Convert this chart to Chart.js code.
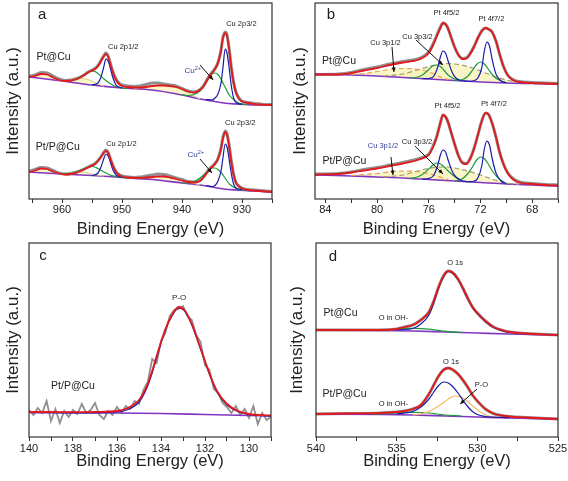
<!DOCTYPE html>
<html>
<head>
<meta charset="utf-8">
<script src="https://cdn.jsdelivr.net/npm/chart.js@4.4.1/dist/chart.umd.min.js"></script>
<style>
  html, body { margin: 0; padding: 0; background: #fff; }
  canvas { position: absolute; }
</style>
</head>
<body>
<canvas id="chartA" width="284" height="241" style="left:0;top:0"></canvas>
<canvas id="chartB" width="284" height="241" style="left:284px;top:0"></canvas>
<canvas id="chartC" width="284" height="240" style="left:0;top:241px"></canvas>
<canvas id="chartD" width="284" height="240" style="left:284px;top:241px"></canvas>
<script>
// ---- a: Cu 2p ----
const aBgEv = [965.5, 960, 955, 950, 945, 940, 937, 935, 933, 931, 928, 925];
const aTopBg = [122, 118, 114, 111, 109, 104, 100, 98, 96, 95, 94, 94];
const aLowBg = [27, 25, 23.5, 21.5, 19.5, 16, 14, 12, 10, 9, 8, 7];
const aEv = [965.5, 964.5, 963.5, 962.5, 961.5, 960.5, 959.5, 958.5, 957.5, 956.5, 955.5, 954.5, 954, 953.5, 953, 952.7, 952.3, 952, 951.5, 951, 950.5, 950, 949, 948, 947, 946, 945, 944, 943, 942, 941, 940, 939, 938, 937, 936.5, 936, 935.5, 935, 934.5, 934, 933.5, 933.2, 932.8, 932.5, 932.2, 931.8, 931.4, 931, 930.5, 930, 929, 928, 927, 926, 925];
const aTopFit = [122, 123, 125, 124.5, 121.5, 119, 118, 118.5, 120, 123, 127, 130, 133, 138, 143, 145, 142, 136, 126, 119, 115, 113, 112, 111.5, 111.5, 112, 113, 113.5, 113.5, 113, 112, 110, 107.5, 106.5, 109, 112, 117, 122, 126, 130, 136, 148, 160, 166, 163, 152, 132, 116, 106, 100, 97.5, 96, 95, 94.5, 94, 94];
const aTopRaw = [122.5, 124, 126.5, 126, 123, 120, 118.5, 119, 120.5, 123.5, 127.5, 130.5, 133.5, 138.5, 143.5, 146, 143, 137, 127, 120, 116, 114, 113, 112.5, 113, 114.5, 116, 116, 115, 114, 113, 110.5, 108, 107, 109.5, 112.5, 117.5, 122.5, 126.5, 130.5, 136.5, 149, 161, 167, 164, 153, 133, 117, 107, 101, 98, 96.5, 95.5, 95, 94.5, 94.5];
const aLowFit = [27, 28.5, 30.5, 30, 27.5, 25.5, 24.5, 25, 26.5, 29, 32, 35, 38, 42, 46.5, 48, 46, 41, 33, 27, 24, 22.5, 21.5, 21, 21, 21.5, 22, 22.5, 22.5, 21.5, 20, 18.5, 17, 16.5, 18, 21, 25, 29, 32, 35, 40, 50, 60, 67, 64, 55, 38, 24, 16, 12.5, 10.5, 9, 8.5, 8, 7.5, 7];
const aLowRaw = [27.5, 29.5, 31.5, 31, 28.5, 26, 25, 25.5, 27, 29.5, 32.5, 35.5, 38.5, 42.5, 47, 49, 46.5, 41.5, 33.5, 27.5, 24.5, 23, 22, 21.5, 22, 23, 24, 25, 24.5, 23, 21, 19.5, 17.5, 17, 18.5, 21.5, 25.5, 29.5, 32.5, 35.5, 40.5, 51, 61, 68, 65, 56, 39, 25, 16.5, 13, 11, 9.5, 9, 8.5, 8, 7.5];
const aMet3Ev = [936, 935, 934.5, 934, 933.5, 933.2, 932.8, 932.5, 932.2, 931.8, 931.4, 931, 930.5, 930];
const aTopMet3 = [99.5, 99, 101, 105, 116, 130, 150, 146, 134, 114, 101, 96.5, 95.2, 94.8];
const aLowMet3 = [13.5, 12.5, 13.5, 18, 28, 40, 55, 52, 42, 26, 15, 11, 10, 9.5];
const aMet1Ev = [955, 954, 953.5, 953, 952.7, 952.3, 952, 951.5, 951, 950.5, 950];
const aTopMet1 = [114, 116, 122, 133, 140, 138, 132, 121, 114, 112, 111];
const aLowMet1 = [23.5, 26, 32, 41, 45, 43, 38, 29, 24, 22.5, 21.5];
const aOx3Ev = [940, 939, 938, 937, 936, 935.5, 935, 934.5, 934, 933.5, 933, 932.5, 932, 931, 930, 929];
const aTopOx3 = [104, 103.5, 104.5, 108, 116, 121, 125, 126, 124.5, 120, 114, 108, 103, 97.5, 95, 94.5];
const aLowOx3 = [16, 16, 17.5, 21, 26, 29, 31, 31, 29.5, 26.5, 22.5, 18, 14.5, 10.5, 9, 8.8];
const aOx1Ev = [960, 959, 958, 957, 956, 955.5, 955, 954.5, 954, 953, 952, 951, 950, 949];
const aTopOx1 = [118, 118, 119, 121.5, 125, 127, 128, 127.5, 125.5, 120, 115.5, 112.5, 111, 110.5];
const aLowOx1 = [25.5, 25.5, 26.5, 28.5, 31, 32, 32.5, 32, 30.5, 27, 24, 22.5, 21.5, 21];
const aSatAEv = [965.5, 964.5, 963.5, 962.5, 961.5, 960.5, 959.5];
const aTopSatA = [122, 123, 124.5, 124, 121, 118.8, 117.6];
const aLowSatA = [27, 28.5, 30, 29.5, 27, 25.5, 24.8];
const aSatBEv = [960, 959, 958, 957, 956, 955, 954, 953];
const aTopSatB = [118, 118.5, 119.5, 120.5, 120, 118, 115, 112.8];
const aLowSatB = [25.2, 25.5, 26.5, 27, 26.5, 25, 23.8, 23];
const aSatCEv = [948, 947, 946, 945, 944, 943, 942, 941, 940, 939, 938, 937];
const aTopSatC = [110.5, 111.5, 112.5, 113.5, 113.5, 113.5, 113, 111.5, 109, 106, 103, 100];
const aLowSatC = [20.7, 21, 21.5, 22, 22.5, 22.5, 21.5, 20, 18.5, 17, 15.5, 14];

// ---- b: Pt 4f / Cu 3p ----
const bBgEv = [84.8, 82, 80, 78, 76, 74, 72, 70, 68, 66];
const bTopBg = [125, 124, 123, 121.5, 120, 118.5, 117, 116, 115.5, 115];
const bLowBg = [24, 23, 22, 21, 19.5, 18, 16.5, 15, 14, 13];
const bEv = [84.8, 83, 82, 81, 80, 79, 78, 77.5, 77, 76.5, 76, 75.7, 75.4, 75.1, 74.9, 74.6, 74.3, 74, 73.7, 73.4, 73.1, 72.8, 72.5, 72.2, 71.9, 71.6, 71.4, 71.1, 70.8, 70.5, 70.2, 69.9, 69.5, 69, 68, 67, 66];
const bTopFit = [124.5, 124.5, 126, 128.5, 131, 134, 136.5, 137.5, 138.5, 141, 146, 153, 162, 171, 176, 173, 163, 152, 144, 140, 140.5, 145, 152, 161, 168, 171, 170, 167, 158, 144, 132, 124, 119, 117, 116, 115.5, 115];
const bTopRaw = [124.5, 125, 126.5, 129.5, 132, 135, 137.5, 138.5, 139.5, 142, 147, 154, 163, 172, 176, 173, 163, 152, 144, 140.5, 141, 145.5, 152.5, 161, 168, 171, 170, 167, 158, 144, 132, 124, 119.5, 117.5, 116.5, 116, 115.5];
const bLowFit = [24.5, 25, 26.5, 28.5, 30.5, 33, 35.5, 37, 38.5, 40.5, 44, 51, 61, 76, 84, 80, 68, 55, 43, 36, 35, 40, 50, 64, 78, 86, 85, 76, 62, 46, 34, 26, 20, 16.5, 15, 14, 13.5];
const bLowRaw = [25, 25.5, 27, 29.5, 31.5, 34, 36.5, 38, 39.5, 41.5, 45, 52, 62, 76, 84, 80, 68, 55, 43.5, 36.5, 35.5, 40.5, 50.5, 64, 78, 86, 85, 76, 62, 46, 34.5, 26.5, 20.5, 17, 15.5, 14.5, 14];
const bPt5Ev = [76.5, 76, 75.6, 75.3, 75.1, 74.9, 74.7, 74.5, 74.2, 73.9, 73.5, 73];
const bTopPt5 = [120.3, 120.5, 123, 132, 142, 148, 146, 138, 127, 121, 118.5, 117.8];
const bLowPt5 = [19.8, 20.5, 24, 34, 44, 49, 47, 39, 28, 22, 18.5, 17.3];
const bPt7Ev = [73, 72.6, 72.2, 71.9, 71.7, 71.5, 71.3, 71.1, 70.8, 70.4, 70];
const bTopPt7 = [117.5, 118, 121, 131, 148, 157, 153, 140, 125, 118, 116.3];
const bLowPt7 = [17.3, 17.5, 21, 33, 50, 58, 54, 41, 26, 18, 15.3];
const bOx5Ev = [77.5, 77, 76.5, 76, 75.7, 75.4, 75.1, 74.8, 74.5, 74, 73.5];
const bTopOx5 = [121, 121.5, 124, 129.5, 133, 134, 132.5, 128.5, 124, 120, 118.5];
const bLowOx5 = [20.7, 21.5, 24.5, 30, 33.5, 36, 35, 32, 28, 22.5, 19];
const bOx7Ev = [74, 73.5, 73, 72.6, 72.3, 72, 71.7, 71.4, 71, 70.5, 70];
const bTopOx7 = [118.5, 119, 122.5, 129, 134.5, 137, 135, 130, 123, 118.5, 116.3];
const bLowOx7 = [18, 19.5, 25, 32.5, 39, 42, 40.5, 35, 26.5, 19.5, 15.5];
const bCu3Ev = [79.5, 78, 77, 76, 75, 74.5, 74, 73, 72, 71, 70, 69];
const bTopCu3 = [122.8, 125, 128.5, 132.5, 135, 135.5, 135, 132.5, 128, 123, 119, 116.5];
const bLowCu3 = [21.8, 24, 27.5, 30.5, 32, 32, 31, 28, 24, 19.5, 16, 14.7];
const bCu1Ev = [82, 81, 80, 79, 78, 77, 76, 75, 74.5];
const bTopCu1 = [124.5, 125.5, 127.5, 129.5, 130.5, 130, 127, 121.5, 119.5];
const bLowCu1 = [23.5, 24.5, 25.5, 27, 28, 27.5, 25.5, 21.5, 19.5];

// ---- c: P 2p ----
const cBgEv = [140, 136, 134, 132, 130, 129];
const cBg = [24.5, 24, 23.5, 22.5, 21.5, 21];
const cEv = [140, 139, 138, 137, 136, 135.5, 135, 134.7, 134.4, 134.1, 133.8, 133.5, 133.2, 132.9, 132.6, 132.3, 132, 131.7, 131.4, 131, 130.5, 130, 129];
const cFit = [25, 25, 24.8, 25, 26, 29, 37, 48, 66, 88, 108, 122, 130, 126, 113, 95, 76, 58, 44, 33, 26, 23, 21.5];
const cPo = [24.5, 24.3, 24.2, 24.2, 25, 27.5, 35, 46, 64, 86.5, 107, 121, 129, 125, 112, 94, 75, 57, 43, 32, 25.5, 22.5, 21];
const cRawEv = [140, 139.8, 139.6, 139.4, 139.2, 139, 138.8, 138.6, 138.4, 138.2, 138, 137.8, 137.6, 137.4, 137.2, 137, 136.8, 136.6, 136.4, 136.2, 136, 135.8, 135.6, 135.4, 135.2, 135, 134.8, 134.6, 134.4, 134.2, 134, 133.8, 133.6, 133.4, 133.2, 133, 132.8, 132.6, 132.4, 132.2, 132, 131.8, 131.6, 131.4, 131.2, 131, 130.8, 130.6, 130.4, 130.2, 130, 129.8, 129.6, 129.4, 129.2, 129];
const cRaw = [27, 22, 29, 24, 36, 16, 28, 14, 26, 20, 27, 23, 33, 24, 27, 34, 22, 18, 26, 22, 30, 24, 31, 28, 36, 33, 47, 55, 78, 74, 96, 104, 121, 127, 128, 131, 121, 117, 102, 95, 72, 67, 48, 44, 34, 30, 24, 31, 22, 28, 19, 31, 13, 24, 17, 20];

// ---- d: O 1s ----
const dBgEv = [540, 536, 534, 532, 530, 528, 525];
const dTopBg = [107, 106.5, 106, 105, 104, 103, 102];
const dLowBg = [23, 22.5, 22, 21, 20, 19, 18];
const dEv = [540, 538, 536, 535, 534.5, 534, 533.5, 533, 532.7, 532.4, 532.1, 531.8, 531.5, 531.2, 530.9, 530.6, 530.3, 530, 529.5, 529, 528.5, 528, 527, 525];
const dTopFit = [107, 107, 107, 108, 110, 112, 117, 125, 136, 150, 161, 166, 164, 158, 149, 139, 130, 124, 116, 110, 107, 105, 103.5, 102];
const dLowFit = [23, 23.5, 24, 25, 26, 28, 32, 43, 52, 61, 67, 69, 67, 63, 57, 50, 42, 36, 28, 23.5, 21.5, 20.5, 19.5, 18];
const dO1sEv = [535, 534, 533.5, 533, 532.7, 532.4, 532.1, 531.8, 531.5, 531.2, 530.9, 530.6, 530.3, 530, 529.5, 529, 528.5, 528];
const dTopO1s = [107, 108.5, 113, 122, 134, 149, 160, 165.5, 163.5, 157.5, 148.5, 138.5, 129.5, 123.5, 115.5, 109.5, 106.5, 104.5];
const dLowO1s = [23, 25.5, 30, 38, 45, 51.5, 55, 54, 50, 44, 37, 30.5, 25.5, 22.5, 20.5, 19.8, 19.5, 19.3];
const dOhEv = [536.5, 535.5, 535, 534.5, 534, 533.5, 533, 532.5, 532, 531];
const dTopOh = [106.6, 107.2, 107.8, 108.3, 108.6, 108.4, 107.8, 106.8, 105.8, 104.6];
const dLowOh = [22.8, 23.5, 24, 24.5, 24.7, 24.5, 24, 23, 22, 21];
const dPoEv = [534, 533.5, 533, 532.5, 532, 531.7, 531.4, 531.1, 530.8, 530.5, 530.2, 529.8, 529.4, 529, 528.5];
const dLowPo = [22, 23, 25.5, 30, 35.5, 39, 41, 40.5, 38, 34, 30, 25, 21.5, 20, 19.2];

const FONT = "'Liberation Sans', Arial, sans-serif";
const RED = '#e31a1c', BLUE = '#1c1ca8', GREEN = '#1e9a3c', BG = '#8236c0', GRAY = '#8f8f8f';
const SAT_FILL = 'rgba(246, 241, 180, 0.75)';

function pts(xs, ys) { return xs.map((x, i) => ({x: x, y: ys[i]})); }

function line(xs, ys, color, width, extra) {
  return Object.assign({
    data: pts(xs, ys), borderColor: color, borderWidth: width,
    pointRadius: 0, fill: false, cubicInterpolationMode: 'monotone'
  }, extra || {});
}

const frame = {
  id: 'frame',
  afterDraw(chart) {
    const {ctx, chartArea: a} = chart;
    ctx.save();
    ctx.strokeStyle = '#333';
    ctx.lineWidth = 1.2;
    ctx.strokeRect(a.left, a.top, a.right - a.left, a.bottom - a.top);
    ctx.restore();
  }
};

const notes = {
  id: 'notes',
  afterDatasetsDraw(chart, args, opts) {
    const {ctx} = chart;
    const x = chart.scales.x, y = chart.scales.y;
    ctx.save();
    (opts.arrows || []).forEach(a => {
      const x0 = x.getPixelForValue(a[0]), y0 = y.getPixelForValue(a[1]);
      const x1 = x.getPixelForValue(a[2]), y1 = y.getPixelForValue(a[3]);
      ctx.strokeStyle = '#111';
      ctx.fillStyle = '#111';
      ctx.lineWidth = 1;
      ctx.beginPath(); ctx.moveTo(x0, y0); ctx.lineTo(x1, y1); ctx.stroke();
      const ang = Math.atan2(y1 - y0, x1 - x0);
      ctx.beginPath();
      ctx.moveTo(x1, y1);
      ctx.lineTo(x1 - 5 * Math.cos(ang - 0.4), y1 - 5 * Math.sin(ang - 0.4));
      ctx.lineTo(x1 - 5 * Math.cos(ang + 0.4), y1 - 5 * Math.sin(ang + 0.4));
      ctx.closePath();
      ctx.fill();
    });
    (opts.texts || []).forEach(t => {
      const px = x.getPixelForValue(t.x), py = y.getPixelForValue(t.y);
      ctx.fillStyle = t.c || '#222';
      ctx.textBaseline = 'middle';
      ctx.font = t.s + 'px ' + FONT;
      if (t.sup) {
        const w1 = ctx.measureText(t.t).width;
        ctx.font = (t.s * 0.7) + 'px ' + FONT;
        const w2 = ctx.measureText(t.sup).width;
        const left = px - (w1 + w2) / 2;
        ctx.textAlign = 'left';
        ctx.fillText(t.sup, left + w1, py - t.s * 0.35);
        ctx.font = t.s + 'px ' + FONT;
        ctx.fillText(t.t, left, py);
      } else {
        ctx.textAlign = 'center';
        ctx.fillText(t.t, px, py);
      }
    });
    ctx.restore();
  }
};

function makeChart(id, box, xr, datasets, note) {
  new Chart(document.getElementById(id), {
    type: 'line',
    data: {datasets: datasets},
    options: {
      responsive: false,
      animation: false,
      layout: {padding: {left: box.pl, right: box.w - box.r, top: box.t, bottom: box.pb}},
      plugins: {
        legend: {display: false},
        tooltip: {enabled: false},
        filler: {drawTime: 'beforeDatasetsDraw'},
        notes: note
      },
      scales: {
        x: {
          type: 'linear', reverse: true, min: xr.min, max: xr.max,
          afterFit(s) { s.height = box.h - box.b - box.pb; s.paddingLeft = 0; s.paddingRight = 0; },
          border: {display: false},
          grid: {display: true, drawOnChartArea: false, drawTicks: true, tickLength: 4, tickColor: '#333', tickWidth: 1},
          ticks: {
            stepSize: xr.minor, autoSkip: false, maxRotation: 0, includeBounds: false,
            padding: box.tp, color: '#222', font: {family: FONT, size: 11},
            callback: v => (Math.abs(v / xr.major - Math.round(v / xr.major)) < 1e-6 ? String(v) : '')
          },
          title: {display: true, text: 'Binding Energy (eV)', color: '#222', padding: 0, font: {family: FONT, size: 16.5}}
        },
        y: {
          type: 'linear', min: 0, max: box.b - box.t,
          afterFit(s) { s.width = box.l - box.pl; s.paddingTop = 0; s.paddingBottom = 0; },
          border: {display: false},
          grid: {display: false},
          ticks: {display: false},
          title: {display: true, text: 'Intensity (a.u.)', color: '#222', padding: 0, font: {family: FONT, size: 17}}
        }
      }
    },
    plugins: [frame, notes]
  });
}

// panel a
makeChart('chartA',
  {w: 284, h: 241, l: 29, r: 272, t: 3, b: 199, pl: 3, pb: 2, tp: 0},
  {min: 925, max: 965.5, minor: 5, major: 10},
  [
    line(aEv, aTopFit, RED, 1.8),
    line(aEv, aLowFit, RED, 1.8),
    line(aMet3Ev, aTopMet3, BLUE, 1.2),
    line(aMet1Ev, aTopMet1, BLUE, 1.2),
    line(aMet3Ev, aLowMet3, BLUE, 1.2),
    line(aMet1Ev, aLowMet1, BLUE, 1.2),
    line(aOx3Ev, aTopOx3, GREEN, 1.2),
    line(aOx1Ev, aTopOx1, GREEN, 1.2),
    line(aOx3Ev, aLowOx3, GREEN, 1.2),
    line(aOx1Ev, aLowOx1, GREEN, 1.2),
    line(aSatAEv, aTopSatA, '#d6cf86', 1, {fill: {target: 16, above: SAT_FILL, below: SAT_FILL}}),
    line(aSatBEv, aTopSatB, '#d6cf86', 1, {fill: {target: 16, above: SAT_FILL, below: SAT_FILL}}),
    line(aSatCEv, aTopSatC, '#d6cf86', 1, {fill: {target: 16, above: SAT_FILL, below: SAT_FILL}}),
    line(aSatAEv, aLowSatA, '#d6cf86', 1, {fill: {target: 17, above: SAT_FILL, below: SAT_FILL}}),
    line(aSatBEv, aLowSatB, '#d6cf86', 1, {fill: {target: 17, above: SAT_FILL, below: SAT_FILL}}),
    line(aSatCEv, aLowSatC, '#d6cf86', 1, {fill: {target: 17, above: SAT_FILL, below: SAT_FILL}}),
    line(aBgEv, aTopBg, BG, 1.6),
    line(aBgEv, aLowBg, BG, 1.6),
    line(aEv, aTopRaw, GRAY, 3),
    line(aEv, aLowRaw, GRAY, 3)
  ],
  {
    texts: [
      {t: 'a', x: 963.3, y: 184, s: 15},
      {t: 'Pt@Cu', x: 961.4, y: 142, s: 10.5},
      {t: 'Cu 2p1/2', x: 949.8, y: 152, s: 7.5},
      {t: 'Cu 2p3/2', x: 930.1, y: 175, s: 7.5},
      {t: 'Cu', sup: '2+', x: 938.2, y: 128, s: 8, c: '#34449a'},
      {t: 'Pt/P@Cu', x: 960.7, y: 52, s: 10.5},
      {t: 'Cu 2p1/2', x: 950.1, y: 55, s: 7.5},
      {t: 'Cu 2p3/2', x: 930.3, y: 76, s: 7.5},
      {t: 'Cu', sup: '2+', x: 937.7, y: 44, s: 8, c: '#34449a'}
    ],
    arrows: [[937.0, 134, 934.8, 119], [937.0, 40, 935.0, 26]]
  });

// panel b
const CU3 = '#a8986a', CU1 = '#f0a040';
makeChart('chartB',
  {w: 284, h: 241, l: 31, r: 274, t: 3, b: 199, pl: 6, pb: 2, tp: 0},
  {min: 66, max: 84.8, minor: 2, major: 4},
  [
    line(bEv, bTopFit, RED, 1.8),
    line(bEv, bLowFit, RED, 1.8),
    line(bPt5Ev, bTopPt5, BLUE, 1.2),
    line(bPt7Ev, bTopPt7, BLUE, 1.2),
    line(bPt5Ev, bLowPt5, BLUE, 1.2),
    line(bPt7Ev, bLowPt7, BLUE, 1.2),
    line(bOx5Ev, bTopOx5, GREEN, 1.2),
    line(bOx7Ev, bTopOx7, GREEN, 1.2),
    line(bOx5Ev, bLowOx5, GREEN, 1.2),
    line(bOx7Ev, bLowOx7, GREEN, 1.2),
    line(bCu3Ev, bTopCu3, CU3, 1.2, {borderDash: [5, 3], fill: {target: 14, above: SAT_FILL, below: SAT_FILL}}),
    line(bCu1Ev, bTopCu1, CU1, 1.2, {borderDash: [5, 3], fill: {target: 14, above: SAT_FILL, below: SAT_FILL}}),
    line(bCu3Ev, bLowCu3, CU3, 1.2, {borderDash: [5, 3], fill: {target: 15, above: SAT_FILL, below: SAT_FILL}}),
    line(bCu1Ev, bLowCu1, CU1, 1.2, {borderDash: [5, 3], fill: {target: 15, above: SAT_FILL, below: SAT_FILL}}),
    line(bBgEv, bTopBg, BG, 1.6),
    line(bBgEv, bLowBg, BG, 1.6),
    line(bEv, bTopRaw, GRAY, 3),
    line(bEv, bLowRaw, GRAY, 3)
  ],
  {
    texts: [
      {t: 'b', x: 83.56, y: 184, s: 15},
      {t: 'Pt@Cu', x: 82.94, y: 138, s: 10.5},
      {t: 'Pt 4f5/2', x: 74.63, y: 186, s: 7.5},
      {t: 'Pt 4f7/2', x: 71.15, y: 180, s: 7.5},
      {t: 'Cu 3p3/2', x: 76.87, y: 162, s: 7.5},
      {t: 'Cu 3p1/2', x: 79.35, y: 156, s: 7.5},
      {t: 'Pt/P@Cu', x: 82.52, y: 38, s: 10.5},
      {t: 'Pt 4f5/2', x: 74.55, y: 93, s: 7.5},
      {t: 'Pt 4f7/2', x: 70.96, y: 95, s: 7.5},
      {t: 'Cu 3p1/2', x: 79.54, y: 53, s: 7.5, c: '#34449a'},
      {t: 'Cu 3p3/2', x: 76.91, y: 57, s: 7.5}
    ],
    arrows: [[78.84, 152, 78.69, 127], [76.99, 159, 74.9, 134], [78.92, 42, 78.77, 24], [77.07, 53, 74.9, 25]]
  });

// panel c
makeChart('chartC',
  {w: 284, h: 240, l: 29, r: 271, t: 2, b: 196, pl: 3, pb: 10, tp: 1.5},
  {min: 129, max: 140, minor: 1, major: 2},
  [
    line(cEv, cFit, RED, 1.8),
    line(cEv, cPo, BLUE, 1.2),
    line(cBgEv, cBg, BG, 1.6),
    line(cRawEv, cRaw, GRAY, 1.8, {cubicInterpolationMode: 'default', tension: 0})
  ],
  {
    texts: [
      {t: 'c', x: 139.36, y: 181, s: 15},
      {t: 'P-O', x: 133.18, y: 139, s: 8},
      {t: 'Pt/P@Cu', x: 138.0, y: 51, s: 10.5}
    ]
  });

// panel d
makeChart('chartD',
  {w: 284, h: 240, l: 32, r: 274, t: 2, b: 196, pl: 3, pb: 10, tp: 1.5},
  {min: 525, max: 540, minor: 2.5, major: 5},
  [
    line(dEv, dTopFit, RED, 1.8),
    line(dEv, dLowFit, RED, 1.8),
    line(dO1sEv, dTopO1s, BLUE, 1.2),
    line(dO1sEv, dLowO1s, BLUE, 1.2),
    line(dPoEv, dLowPo, '#f5b865', 1.2),
    line(dOhEv, dTopOh, GREEN, 1.2),
    line(dOhEv, dLowOh, GREEN, 1.2),
    line(dBgEv, dTopBg, BG, 1.6),
    line(dBgEv, dLowBg, BG, 1.6),
    line(dEv, dTopFit, GRAY, 3),
    line(dEv, dLowFit, GRAY, 3)
  ],
  {
    texts: [
      {t: 'd', x: 538.95, y: 180, s: 15},
      {t: 'O 1s', x: 531.38, y: 174, s: 7.5},
      {t: 'Pt@Cu', x: 538.48, y: 124, s: 10.5},
      {t: 'O in OH-', x: 535.2, y: 119, s: 7.5},
      {t: 'O 1s', x: 531.63, y: 75, s: 7.5},
      {t: 'P-O', x: 529.74, y: 52, s: 7.5},
      {t: 'Pt/P@Cu', x: 538.23, y: 43, s: 10.5},
      {t: 'O in OH-', x: 535.2, y: 33, s: 7.5}
    ],
    arrows: [[530.02, 48, 531.07, 33]]
  });
</script>
</body>
</html>
